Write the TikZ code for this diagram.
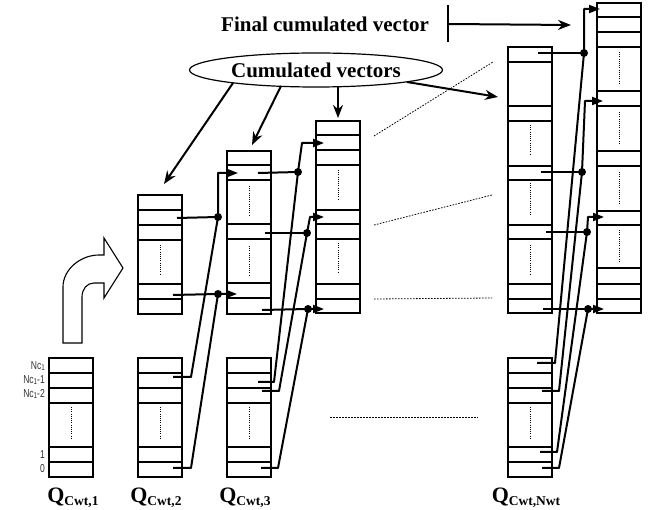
\documentclass[tikz,border=0pt]{standalone}
\usepackage{fontspec}
\setmainfont{Liberation Serif}
\newfontfamily\rowfont{Liberation Sans}
\usetikzlibrary{arrows.meta,shapes.geometric}

\tikzset{
  boxline/.style={line width=1.35pt},
  gapdots/.style={line width=1pt, dash pattern=on 1pt off 1.2pt},
  feed/.style={line width=2pt, line join=round},
  link/.style={feed, -{Triangle[length=11pt,width=8pt]}},
  jdot/.style={circle, fill, inner sep=0pt, minimum size=8pt},
  guide/.style={line width=0.8pt, dash pattern=on 1.6pt off 1.4pt},
  callout/.style={line width=2pt, -{Stealth[length=13pt,width=10pt]}},
  qlabel/.style={font=\fontsize{22}{24}\selectfont\bfseries, anchor=base, inner sep=0pt},
  rowlabel/.style={font=\rowfont\fontsize{11.5}{11.5}\selectfont, anchor=east, inner sep=0pt, text=black!80},
  headline/.style={font=\fontsize{21}{24}\selectfont\bfseries, inner sep=0pt},
}

% a column of cells: left x, top y, bottom y, inner row lines
\newcommand\cellstack[4]{%
  \draw[boxline] (#1,#2) rectangle (#1+44,#3);
  \foreach \ry in {#4} \draw[boxline] (#1,\ry) -- (#1+44,\ry);
}
% elided rows: dotted mark in the middle of a gap
\newcommand\gapmark[3]{\draw[gapdots] (#1+22,#2) -- (#1+22,#3);}
\newcommand\qsub[1]{\raisebox{-2pt}{\fontsize{13.5}{13.5}\selectfont #1}}
% narrow row index text
\newcommand\idx[1]{\scalebox{0.74}[1]{#1}}
\newcommand\lowone{\raisebox{-1.5pt}{\fontsize{8.5}{8.5}\selectfont 1}}

\begin{document}
\begin{tikzpicture}[x=1pt,y=-1pt]
\useasboundingbox (0,0) rectangle (659,510);

% ---- input vectors Q ----
\cellstack{49}{358}{477}{373,388,403,447,462}
\gapmark{49}{407}{438}
\cellstack{138}{358}{477}{373,388,403,447,462}
\gapmark{138}{407}{438}
\cellstack{227}{358}{477}{373,388,403,447,462}
\gapmark{227}{407}{438}
\cellstack{508}{358}{477}{373,388,403,447,462}
\gapmark{508}{407}{438}

% ---- cumulated vectors ----
\cellstack{138}{195}{314}{210,225,240,284,299}
\gapmark{138}{245}{275}
\cellstack{227}{151}{314}{165,180,224,239,283,298}
\gapmark{227}{186}{216}
\gapmark{227}{246}{276}
\cellstack{316}{121}{313}{135,150,165,210,224,239,284,299}
\gapmark{316}{170}{200}
\gapmark{316}{243}{273}
\cellstack{508}{47}{313}{62,106,121,166,180,225,239,284,299}
\gapmark{508}{125}{155}
\gapmark{508}{183}{215}
\gapmark{508}{245}{275}
\cellstack{597}{3}{313}{17,32,47,91,106,151,166,211,225,268,284,299}
\gapmark{597}{52}{83}
\gapmark{597}{112}{143}
\gapmark{597}{172}{203}
\gapmark{597}{230}{262}

% ---- row indices of the first vector ----
\node[rowlabel] (ix0) at (45,366) {\idx{Nc\lowone}};
\node[rowlabel] (ix1) at (45,380) {\idx{Nc\lowone-1}};
\node[rowlabel] (ix2) at (45,394) {\idx{Nc\lowone-2}};
\node[rowlabel] (ix3) at (45,455) {\idx{1}};
\node[rowlabel] (ix4) at (45,469) {\idx{0}};

% ---- vector names ----
\node[qlabel] (qn1) at (73,503) {Q\qsub{Cwt,1}};
\node[qlabel] (qn2) at (156,503) {Q\qsub{Cwt,2}};
\node[qlabel] (qn3) at (245,503) {Q\qsub{Cwt,3}};
\node[qlabel] (qnn) at (526,503) {Q\qsub{Cwt,Nwt}};

% ---- copy arrow: first vector becomes first cumulated vector ----
\draw[line width=1.1pt, line join=miter]
  (63,343) -- (63,287) .. controls (63,269) and (81,255) .. (99,255)
  -- (104,255) -- (104,238) -- (123,268) -- (104,298) -- (104,283)
  -- (94,283) .. controls (87,283) and (82,289) .. (82,297) -- (82,343) -- cycle;

% ---- step 2 ----
\coordinate (a1c) at (177,218); \node[jdot] (a1d) at (218,217) {};
\coordinate (a1q) at (173,377); \coordinate (a1b) at (191,377);
\coordinate (a1k) at (218,173); \coordinate (a1t) at (238,173);
\draw[feed] (a1c) -- (a1d.center);
\draw[link] (a1q) -- (a1b) -- (a1d.center) -- (a1k) -- (a1t);

\coordinate (a2c) at (173,295); \node[jdot] (a2d) at (218,294) {};
\coordinate (a2q) at (173,468); \coordinate (a2b) at (191,468);
\coordinate (a2t) at (237,294);
\draw[feed] (a2c) -- (a2d.center);
\draw[link] (a2q) -- (a2b) -- (a2d.center) -- (a2t);

% ---- step 3 ----
\coordinate (b1c) at (258,173); \node[jdot] (b1d) at (298,172) {};
\coordinate (b1q) at (258,382); \coordinate (b1b) at (274,382);
\coordinate (b1k) at (302,143); \coordinate (b1t) at (324,143);
\draw[feed] (b1c) -- (b1d.center);
\draw[link] (b1q) -- (b1b) -- (b1d.center) -- (b1k) -- (b1t);

\coordinate (b2c) at (265,233); \node[jdot] (b2d) at (307,233) {};
\coordinate (b2q) at (262,391); \coordinate (b2b) at (279,391);
\coordinate (b2k) at (310,217); \coordinate (b2t) at (324,217);
\draw[feed] (b2c) -- (b2d.center);
\draw[link] (b2q) -- (b2b) -- (b2d.center) -- (b2k) -- (b2t);

\coordinate (b3c) at (262,310); \node[jdot] (b3d) at (308,309) {};
\coordinate (b3q) at (261,468); \coordinate (b3b) at (278,468);
\coordinate (b3t) at (324,309);
\draw[feed] (b3c) -- (b3d.center);
\draw[link] (b3q) -- (b3b) -- (b3d.center) -- (b3t);

% ---- last step ----
\coordinate (d1c) at (538,53); \node[jdot] (d1d) at (584,53) {};
\coordinate (d1q) at (537,363); \coordinate (d1b) at (555,363);
\coordinate (d1k) at (584,9); \coordinate (d1t) at (600,9);
\draw[feed] (d1c) -- (d1d.center);
\draw[link] (d1q) -- (d1b) -- (d1d.center) -- (d1k) -- (d1t);

\coordinate (d2c) at (541,172); \node[jdot] (d2d) at (582,172) {};
\coordinate (d2q) at (542,391); \coordinate (d2b) at (559,391);
\coordinate (d2k) at (585,101); \coordinate (d2t) at (603,101);
\draw[feed] (d2c) -- (d2d.center);
\draw[link] (d2q) -- (d2b) -- (d2d.center) -- (d2k) -- (d2t);

\coordinate (d3c) at (546,232); \node[jdot] (d3d) at (587,232) {};
\coordinate (d3q) at (540,452); \coordinate (d3b) at (557,452);
\coordinate (d3k) at (588,217); \coordinate (d3t) at (604,217);
\draw[feed] (d3c) -- (d3d.center);
\draw[link] (d3q) -- (d3b) -- (d3d.center) -- (d3k) -- (d3t);

\coordinate (d4c) at (543,309); \node[jdot] (d4d) at (588,309) {};
\coordinate (d4q) at (542,468); \coordinate (d4b) at (559,468);
\coordinate (d4t) at (604,309);
\draw[feed] (d4c) -- (d4d.center);
\draw[link] (d4q) -- (d4b) -- (d4d.center) -- (d4t);

% ---- omitted intermediate steps ----
\coordinate (g1a) at (374,136); \coordinate (g1b) at (493,62);
\coordinate (g2a) at (374,225); \coordinate (g2b) at (492,195);
\coordinate (g3a) at (374,299); \coordinate (g3b) at (492,298);
\coordinate (g4a) at (330,417); \coordinate (g4b) at (478,417);
\draw[guide] (g1a) -- (g1b);
\draw[guide] (g2a) -- (g2b);
\draw[guide] (g3a) -- (g3b);
\draw[guide] (g4a) -- (g4b);

% ---- callouts ----
\node[draw, ellipse, line width=1.2pt, minimum width=253pt, minimum height=34pt,
      inner sep=0pt, headline] (cum) at (316,70) {Cumulated vectors};
\coordinate (e1s) at (233,83); \coordinate (e1t) at (164,184);
\coordinate (e2s) at (281,86); \coordinate (e2t) at (252,145);
\coordinate (e3s) at (338,87); \coordinate (e3t) at (338,118);
\coordinate (e4s) at (407,82); \coordinate (e4t) at (498,97);
\draw[callout] (e1s) -- (e1t);
\draw[callout] (e2s) -- (e2t);
\draw[callout] (e3s) -- (e3t);
\draw[callout] (e4s) -- (e4t);

\node[headline] (fin) at (325,24) {Final cumulated vector};
\coordinate (f0) at (448,5); \coordinate (f1) at (448,42);
\coordinate (fs) at (448,24); \coordinate (ft) at (571,25);
\draw[line width=1.8pt] (f0) -- (f1);
\draw[callout] (fs) -- (ft);
\end{tikzpicture}
\end{document}
